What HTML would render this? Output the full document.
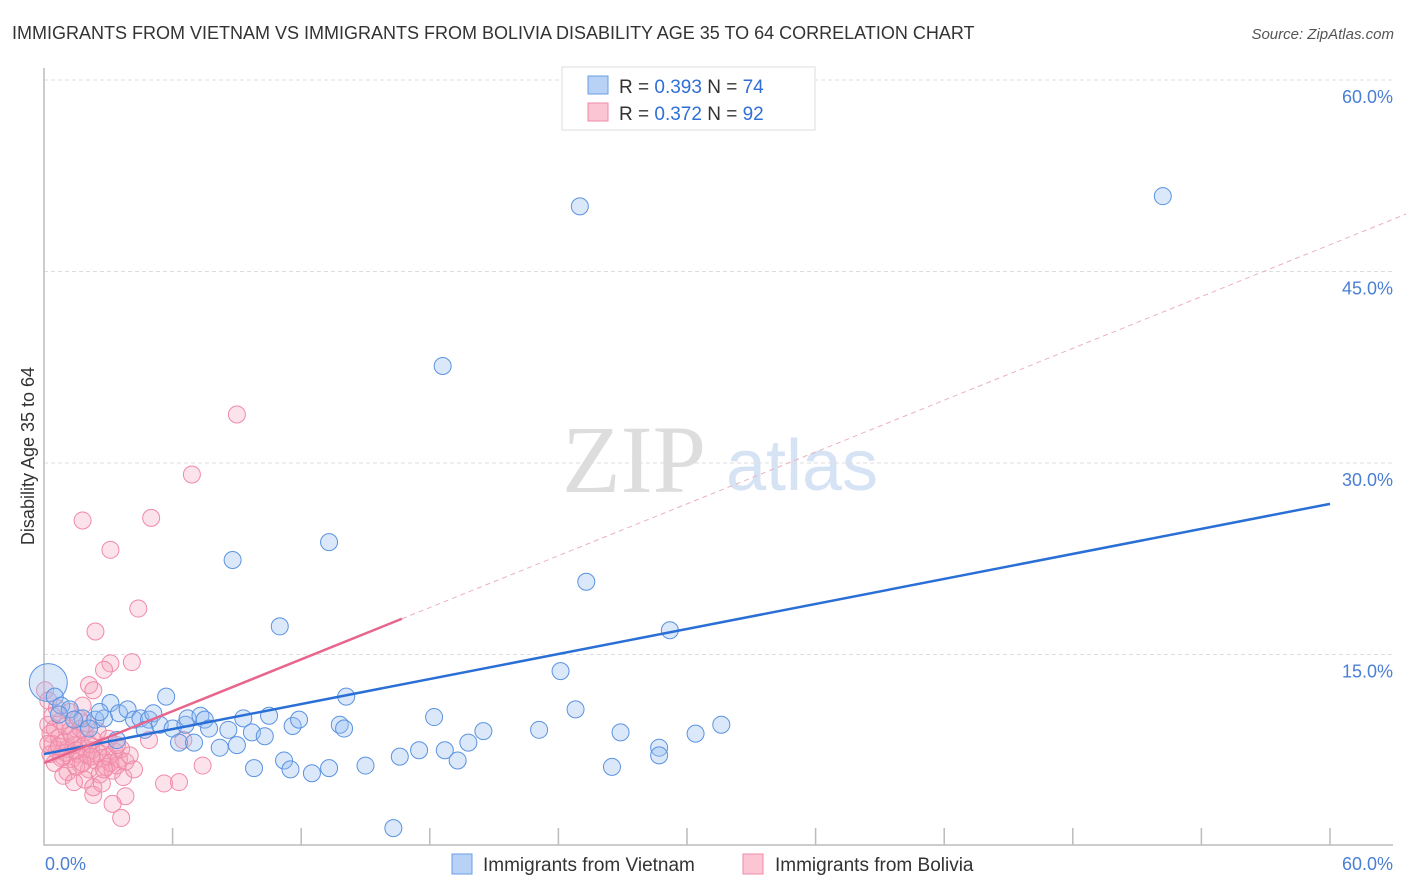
<!DOCTYPE html>
<html><head><meta charset="utf-8"><style>
body{margin:0;background:#fff;font-family:"Liberation Sans",sans-serif;}
svg{display:block}
</style></head><body>
<svg id="chart" width="1406" height="892">
<text x="12" y="39" font-size="18" fill="#333">IMMIGRANTS FROM VIETNAM VS IMMIGRANTS FROM BOLIVIA DISABILITY AGE 35 TO 64 CORRELATION CHART</text>
<text x="1394" y="39" font-size="15" fill="#555" font-style="italic" text-anchor="end">Source: ZipAtlas.com</text>
<text x="634" y="492" font-size="96" fill="#ddd" font-family="Liberation Serif,serif" text-anchor="middle">ZIP</text>
<text x="802" y="490" font-size="72" fill="#d6e3f5" text-anchor="middle">atlas</text>
<text transform="translate(34,456) rotate(-90)" font-size="18" fill="#333" text-anchor="middle">Disability Age 35 to 64</text>
<g id="grid"></g><g id="marks"></g><g id="lines"></g>
<g>
<rect x="562" y="67" width="253" height="63" fill="#fff" stroke="#ddd"/>
<rect x="588" y="76" width="20" height="18" fill="#b8d2f5" stroke="#6a9ee6"/>
<rect x="588" y="103" width="20" height="18" fill="#fbc5d3" stroke="#f08aa8"/>
<text x="619" y="93" font-size="19" fill="#333">R = <tspan fill="#2f6fd6">0.393</tspan>   N = <tspan fill="#2f6fd6">74</tspan></text>
<text x="619" y="120" font-size="19" fill="#333">R = <tspan fill="#2f6fd6">0.372</tspan>   N = <tspan fill="#2f6fd6">92</tspan></text>
</g>
<g>
<rect x="452" y="854" width="20" height="20" fill="#b8d2f5" stroke="#6a9ee6"/>
<text x="483" y="871" font-size="19" fill="#333">Immigrants from Vietnam</text>
<rect x="743" y="854" width="20" height="20" fill="#fbc5d3" stroke="#f08aa8"/>
<text x="775" y="871" font-size="19" fill="#333">Immigrants from Bolivia</text>
</g>
<text x="45" y="870" font-size="18" fill="#4a7fd4">0.0%</text>
<text x="1393" y="870" font-size="18" fill="#4a7fd4" text-anchor="end">60.0%</text>
</svg>
<script>
const yTicks=[15,30,45,60];
const yTickLabels=["15.0%","30.0%","45.0%","60.0%"];
const blueX=[0.2,0.5,0.8,1.2,1.8,2.4,2.8,3.1,3.5,3.9,4.2,4.5,4.9,5.1,5.4,5.7,6.0,6.3,6.6,6.7,7.0,7.3,7.5,7.7,8.2,8.6,9.0,9.3,9.7,9.8,10.3,10.5,11.0,11.2,11.5,11.6,11.9,12.5,13.3,13.3,13.8,14.0,14.1,15.0,16.3,16.6,17.5,18.2,18.6,18.7,19.3,19.8,20.5,23.1,24.1,24.8,25.0,25.3,26.5,26.9,28.7,28.7,29.2,30.4,31.6,52.2,8.8,0.7,1.4,2.1,2.6,3.4,4.7];
const blueY=[12.8,11.7,11.0,10.7,10.0,9.9,10.0,11.2,10.4,10.7,9.9,10.0,9.9,10.4,9.5,11.7,9.2,8.1,9.5,10.0,8.1,10.2,9.9,9.2,7.7,9.1,7.9,10.0,8.9,6.1,8.6,10.2,17.2,6.7,6.0,9.4,9.9,5.7,6.1,23.8,9.5,9.2,11.7,6.3,1.4,7.0,7.5,10.1,37.6,7.5,6.7,8.1,9.0,9.1,13.7,10.7,50.1,20.7,6.2,8.9,7.7,7.1,16.9,8.8,9.5,50.9,22.4,10.3,9.9,9.2,10.5,8.3,9.1];
const pinkX=[9.0,6.9,5.0,1.8,3.1,4.4,2.4,4.1,3.1,2.8,2.1,2.3,1.8,5.6,6.3,7.4,3.8,3.2,3.6,2.3,6.5,4.9,0.05,0.2,0.2,0.3,0.4,0.5,0.6,0.7,0.8,0.9,1.0,1.1,1.2,1.3,1.4,1.5,1.6,1.7,1.8,1.9,2.0,2.1,2.2,2.3,2.4,2.5,2.6,2.7,2.8,2.9,3.0,3.1,3.2,3.3,3.4,3.5,3.6,3.7,3.8,4.0,4.2,0.3,0.5,0.8,1.0,1.1,1.3,1.5,1.7,1.9,2.1,2.3,2.5,2.7,0.4,0.6,1.2,1.6,2.0,0.9,1.4,2.8,3.0,3.4,0.2,1.8,2.2,1.0,0.7,1.5];
const pinkY=[33.8,29.1,25.7,25.5,23.2,18.6,16.8,14.4,14.3,13.8,12.6,12.2,11.0,4.9,5.0,6.3,3.9,3.3,2.2,4.0,8.3,8.3,12.2,11.4,9.5,8.8,8.0,9.2,7.5,8.5,9.8,7.0,8.2,7.6,9.0,6.8,7.9,8.5,7.2,6.4,7.8,8.9,7.1,6.0,7.5,8.3,6.7,7.3,5.6,6.9,7.8,6.2,7.0,6.5,5.9,7.4,6.3,6.8,7.6,5.4,6.6,7.1,6.0,7.2,6.5,6.9,9.4,5.8,8.7,6.2,9.2,5.2,8.0,4.6,9.0,4.9,10.2,10.8,10.5,10.0,9.6,5.5,5.0,6.0,8.4,7.9,8.0,6.5,7.0,7.3,7.8,7.5];
const blueFit=[7.2,26.8];
const pinkFit=[6.5,17.8];
const pinkFitEndX=16.7;
const NS="http://www.w3.org/2000/svg";
const X=v=>44+v/60*1286;
const Y=v=>846-v/15*191.5;
function mk(t,a,p){const e=document.createElementNS(NS,t);for(const k in a)e.setAttribute(k,a[k]);p.appendChild(e);return e;}
const grid=document.getElementById('grid');
yTicks.forEach((t,i)=>{
 const l=mk('line',{x1:44,x2:1393,y1:Y(t),y2:Y(t),stroke:'#ddd','stroke-dasharray':'4,3'},grid);
 
 
 const tx=mk('text',{x:1393,y:Y(t)+23,'font-size':18,fill:'#4a7fd4','text-anchor':'end'},grid);
 tx.textContent=yTickLabels[i];
 
 
});
const ax=mk('path',{d:'M44 68 V845 H1393',fill:'none',stroke:'#bbb','stroke-width':1.5},grid);


for(let k=1;k<=10;k++){const t=mk('line',{x1:X(k*6),x2:X(k*6),y1:828,y2:845,stroke:'#bbb','stroke-width':1.5},grid);
 
 }
const marks=document.getElementById('marks');
pinkX.forEach((x,i)=>{const c=mk('circle',{cx:X(x),cy:Y(pinkY[i]),r:8.5,fill:'rgba(245,160,185,0.3)',stroke:'#f08aa8','stroke-width':1},marks);
 
 });
blueX.forEach((x,i)=>{const c=mk('circle',{cx:X(x),cy:Y(blueY[i]),r:i==0?19:8.5,fill:'rgba(150,190,240,0.35)',stroke:'#5b93e0','stroke-width':1},marks);
 
 });
const lines=document.getElementById('lines');
const bl=mk('line',{x1:X(0),y1:Y(blueFit[0]),x2:X(60),y2:Y(blueFit[1]),stroke:'#2a6fd6','stroke-width':2.5},lines);


const slope=(pinkFit[1]-pinkFit[0])/pinkFitEndX;
const pl=mk('line',{x1:X(0),y1:Y(pinkFit[0]),x2:X(pinkFitEndX),y2:Y(pinkFit[1]),stroke:'#e8658c','stroke-width':2.5},lines);


const xe=(60-pinkFit[0])/slope;
const pd=mk('line',{x1:X(pinkFitEndX),y1:Y(pinkFit[1]),x2:X(xe),y2:Y(60),stroke:'#eab0c2','stroke-width':1,'stroke-dasharray':'5,4'},lines);


</script>
</body></html>
